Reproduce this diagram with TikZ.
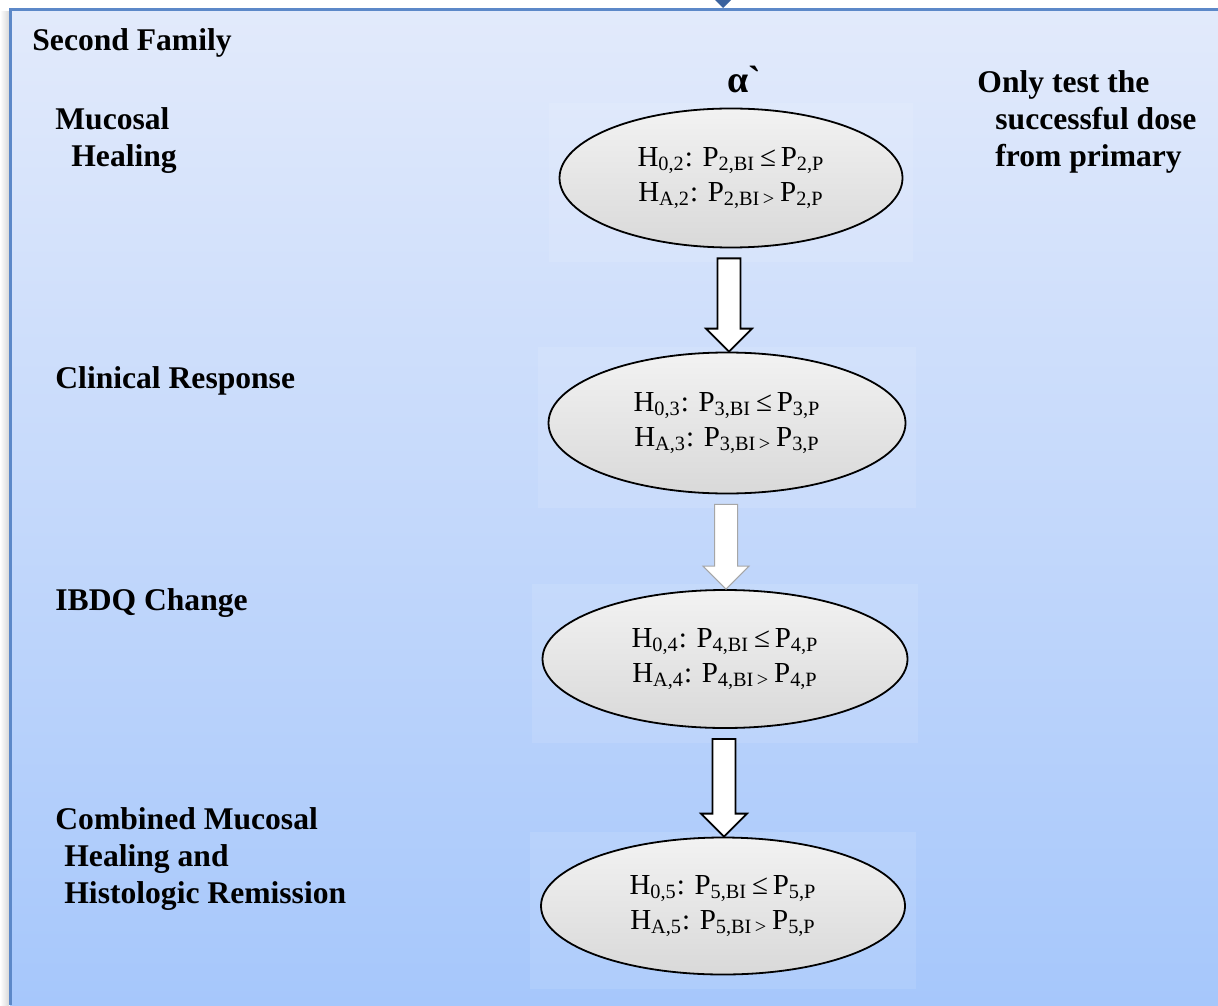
\documentclass[tikz,border=0pt]{standalone}
\usepackage{fontspec}
\setmainfont{Liberation Serif}
\newfontfamily\rawserif{Liberation Serif}[Ligatures=TeXOff]
\usetikzlibrary{shapes.geometric, calc, backgrounds}
\definecolor{frametop}{RGB}{226,234,251}
\definecolor{framebot}{RGB}{166,199,251}
\definecolor{frameedge}{RGB}{92,136,200}
\definecolor{tipblue}{RGB}{58,98,158}

\newcommand\hyptext[1]{H\textsubscript{0,#1}: P\textsubscript{#1,BI}\,≤\,P\textsubscript{#1,P}\\
  H\textsubscript{A,#1}: P\textsubscript{#1,BI\,>}\,P\textsubscript{#1,P}}

\newcommand\blockarrow[3][]{%
  \draw[blockarr,#1] let \p1=($(#2.south)!0.5!(#3.north)$), \p2=(#2.south), \p3=(#3.north) in
    (\x1-5.75pt,\y2-5pt) -- (\x1+5.75pt,\y2-5pt) -- (\x1+5.75pt,\y3+11.5pt) -- (\x1+11.5pt,\y3+11.5pt)
    -- (\x1,\y3) -- (\x1-11.5pt,\y3+11.5pt) -- (\x1-5.75pt,\y3+11.5pt) -- cycle;}

\begin{document}
\begin{tikzpicture}[x=0.5pt, y=-0.5pt,
  hyp/.style={ellipse, draw=black, line width=0.9pt, top color=gray!10, bottom color=gray!30, inner sep=0pt, align=center, font=\fontsize{14.5}{17.5}\selectfont},
  lbl/.style={anchor=base west, inner sep=0pt, align=left, font=\bfseries\fontsize{15.8}{18.5}\selectfont},
  glow/.style={fill=white, fill opacity=0.1},
  blockarr/.style={draw=black, fill=white, line width=0.9pt, line join=miter}
]
  \useasboundingbox (0,0) rectangle (1218,1005);

  \node[hyp, minimum width=171.5pt, minimum height=69.5pt] (h2) at (731,178) {\hyptext{2}};
  \node[hyp, minimum width=178.5pt, minimum height=70.5pt] (h3) at (727,423) {\hyptext{3}};
  \node[hyp, minimum width=182.5pt, minimum height=69pt] (h4) at (725,659) {\hyptext{4}};
  \node[hyp, minimum width=182pt, minimum height=68.5pt] (h5) at (723,906) {\hyptext{5}};

  \begin{pgfonlayer}{background}
    \fill[left color=white, right color=gray!30] (0,12) rectangle (9,1005);
    \fill[top color=frametop, bottom color=framebot] (10,10) rectangle (1218,1005);
    \draw[frameedge, line width=1.5pt] (10,1005) -- (10,10) -- (1218,10);
    \fill[tipblue] (715,0) -- (731,0) -- (723,8) -- cycle;
    \foreach \h in {h2,h3,h4,h5}
      \fill[glow] ($(\h.west |- \h.north)+(-10,-5)$) rectangle ($(\h.east |- \h.south)+(10,14)$);
  \end{pgfonlayer}

  \blockarrow{h2}{h3}
  \blockarrow[draw=gray!70, line width=0.5pt]{h3}{h4}
  \blockarrow{h4}{h5}

  \node[lbl] (fam) at (32,51) {Second Family};
  \node[lbl, anchor=base, font=\rawserif\bfseries\fontsize{19}{22}\selectfont] (alpha) at (744,93) {α\char"60};
  \node[lbl] (note) at (977,167) {Only test the\\\hspace*{9pt}successful dose\\\hspace*{9pt}from primary};
  \node[lbl] (l2) at (55,167) {Mucosal\\\hspace*{8pt}Healing};
  \node[lbl] (l3) at (55,388) {Clinical Response};
  \node[lbl] (l4) at (55,610) {IBDQ Change};
  \node[lbl] (l5) at (55,903) {Combined Mucosal\\\hspace*{4.5pt}Healing and\\\hspace*{4.5pt}Histologic Remission};
\end{tikzpicture}
\end{document}
